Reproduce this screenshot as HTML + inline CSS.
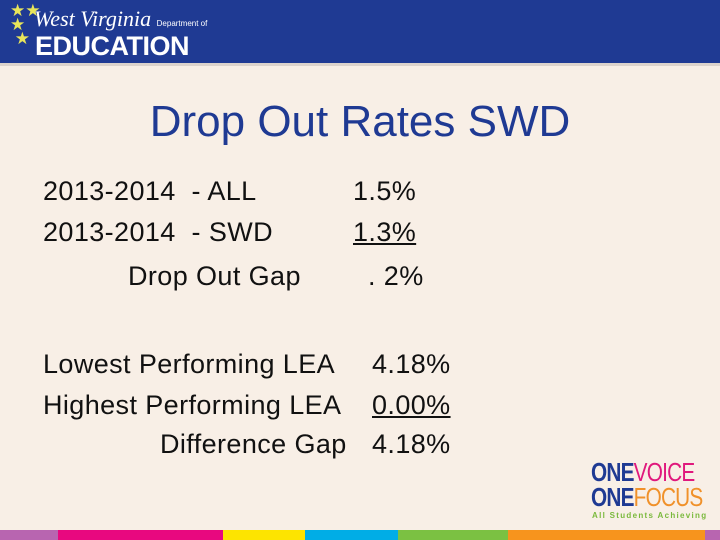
<!DOCTYPE html>
<html><head><meta charset="utf-8"><style>
body{margin:0;width:720px;height:540px;overflow:hidden;background:#f8efe6;font-family:"Liberation Sans",sans-serif;color:#111;position:relative}
div{position:absolute}
.t{font-size:27px;letter-spacing:0.4px;white-space:nowrap;line-height:1}
</style></head><body>
<div style="left:0;top:0;width:720px;height:63px;background:#1f3a93"></div>
<div style="left:0;top:63px;width:720px;height:3px;background:#dcd3cc"></div>
<div style="left:10px;top:4px;color:#e8e55a;font-size:17px;line-height:14px;width:40px">&#9733;&#9733;<br>&#9733;<br>&nbsp;&#9733;</div>
<div style="left:34px;top:6px;color:#fff;font-family:'Liberation Serif',serif;font-style:italic;font-size:22px;white-space:nowrap">West Virginia <span style="font-size:8px;font-style:normal;font-family:'Liberation Sans'">Department of</span></div>
<div style="left:35px;top:31px;color:#fff;font-weight:bold;font-size:27px;letter-spacing:-0.5px">EDUCATION</div>
<div style="left:0;top:97px;width:720px;text-align:center;font-size:44px;color:#1f3a93">Drop Out Rates SWD</div>
<div class="t" style="left:43px;top:178px">2013-2014 &nbsp;- ALL</div>
<div class="t" style="left:353px;top:178px">1.5%</div>
<div class="t" style="left:43px;top:219px">2013-2014 &nbsp;- SWD</div>
<div class="t" style="left:353px;top:219px;text-decoration:underline">1.3%</div>
<div class="t" style="left:128px;top:263px">Drop Out Gap</div>
<div class="t" style="left:368px;top:263px">. 2%</div>
<div class="t" style="left:43px;top:351px">Lowest Performing LEA</div>
<div class="t" style="left:372px;top:351px">4.18%</div>
<div class="t" style="left:43px;top:392px">Highest Performing LEA</div>
<div class="t" style="left:372px;top:392px;text-decoration:underline">0.00%</div>
<div class="t" style="left:160px;top:431px">Difference Gap</div>
<div class="t" style="left:372px;top:431px">4.18%</div>
<div style="left:591px;top:460px;font-size:26px;line-height:25px;white-space:nowrap;letter-spacing:-1px;transform:scaleX(0.8);transform-origin:0 0"><span style="color:#1f3a93;font-weight:bold">ONE</span><span style="color:#e0197d">VOICE</span><br><span style="color:#1f3a93;font-weight:bold">ONE</span><span style="color:#f0912a">FOCUS</span></div>
<div style="left:592px;top:511px;font-size:8px;font-weight:bold;color:#7ab93c;letter-spacing:1.3px;white-space:nowrap">All Students Achieving</div>
<div style="left:0;top:530px;width:58px;height:10px;background:#b865b0"></div>
<div style="left:58px;top:530px;width:165px;height:10px;background:#e8087f"></div>
<div style="left:223px;top:530px;width:82px;height:10px;background:#fde400"></div>
<div style="left:305px;top:530px;width:93px;height:10px;background:#00ade6"></div>
<div style="left:398px;top:530px;width:110px;height:10px;background:#7bc142"></div>
<div style="left:508px;top:530px;width:197px;height:10px;background:#f7941d"></div>
<div style="left:705px;top:530px;width:15px;height:10px;background:#b865b0"></div>
</body></html>
